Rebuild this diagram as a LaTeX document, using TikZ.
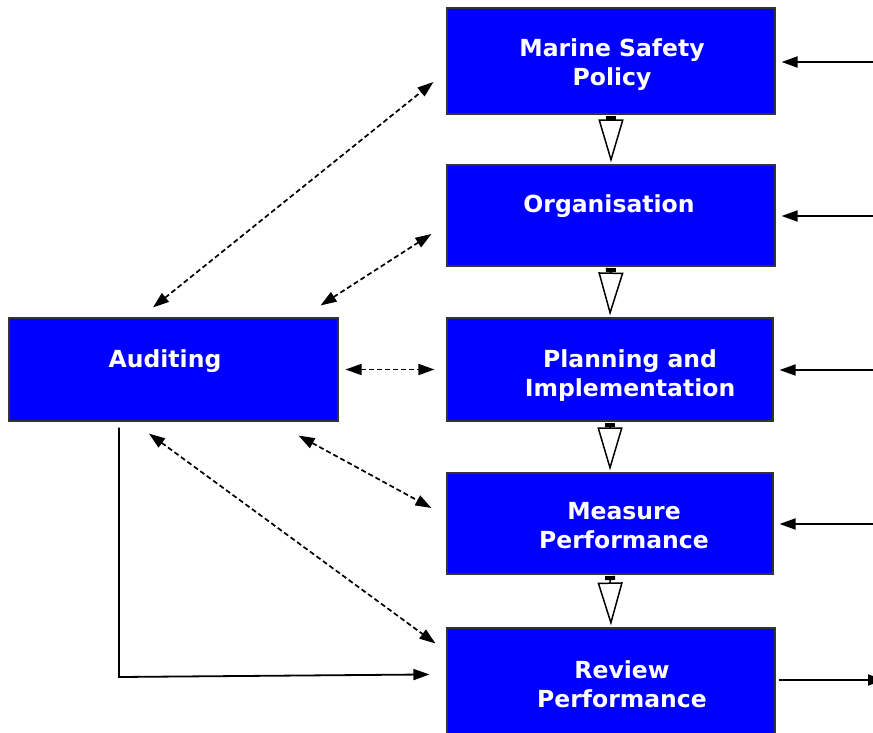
\documentclass[tikz,border=0pt]{standalone}
\usepackage{fontspec}
\setsansfont{DejaVu Sans}
\usetikzlibrary{arrows.meta}

\tikzset{
  stage/.style={draw=black!80, line width=1.1pt, fill=blue, inner sep=0pt},
  stagetext/.style={text=white, align=center, font=\sffamily\bfseries\fontsize{23.5}{29}\selectfont},
  flow/.style={line width=1.5pt, {Rectangle[length=4pt,width=10pt]}-{Triangle[open,length=43pt,width=25pt]},
    shorten <=1.5pt, shorten >=2pt},
  feed/.style={line width=1.8pt, -{Triangle[length=16pt,width=11pt]}},
  audit/.style={line width=1.7pt, dash pattern=on 5pt off 3pt, {Triangle[length=16pt,width=11pt]}-{Triangle[length=16pt,width=11pt]}}
}

\begin{document}
\begin{tikzpicture}[x=1pt, y=-1pt]
  \useasboundingbox (0,0) rectangle (873,733);

  % boxes
  \node[stage, minimum width=328pt, minimum height=106pt] (pol) at (611,61) {};
  \node[stage, minimum width=328pt, minimum height=101pt] (org) at (611,215.5) {};
  \node[stage, minimum width=326pt, minimum height=103pt] (pla) at (610,369.5) {};
  \node[stage, minimum width=326pt, minimum height=101pt] (mea) at (610,523.5) {};
  \node[stage, minimum width=328pt, minimum height=106pt] (rev) at (611,681) {};
  \node[stage, minimum width=329pt, minimum height=103pt] (aud) at (173.5,369.5) {};

  \node[stagetext] (poltext) at ([shift={(1,4)}]pol.center) {Marine Safety\\Policy};
  \node[stagetext] (orgtext) at ([shift={(-2,-9.5)}]org.center) {Organisation};
  \node[stagetext] (platext) at ([shift={(20,6.5)}]pla.center) {Planning and\\Implementation};
  \node[stagetext] (meatext) at ([shift={(14,2.5)}]mea.center) {Measure\\Performance};
  \node[stagetext] (revtext) at ([shift={(11,3)}]rev.center) {Review\\Performance};
  \node[stagetext] (audtext) at ([shift={(-8.5,-8.5)}]aud.center) {Auditing};

  % main flow
  \draw[flow] (pol.south) -- (org.north);
  \draw[flow] (org.south) -- (pla.north);
  \draw[flow] (pla.south) -- (mea.north);
  \draw[flow] (mea.south) -- (rev.north);

  % inputs and output on the right
  \foreach \b/\y in {pol/62, org/216, pla/370, mea/524} {
    \coordinate (in\b) at (873,\y);
    \draw[feed, shorten >=6pt] (in\b) -- (in\b -| \b.east);
  }
  \coordinate (out) at (884,680);
  \draw[feed, shorten <=3pt] (rev.east |- out) -- (out);

  % auditing links
  \draw[audit] ([shift={(-20.5,-10)}]aud.north) -- ([shift={(-13,21)}]pol.west);
  \draw[audit] ([shift={(-18,-12)}]aud.north east) -- ([shift={(-15,18.5)}]org.west);
  \draw[audit] ([shift={(7,0)}]aud.east) -- ([shift={(-12,0)}]pla.west);
  \draw[audit] ([shift={(-40,14)}]aud.south east) -- ([shift={(-15,-15.5)}]mea.west);
  \draw[audit] ([shift={(-24.5,12)}]aud.south) -- ([shift={(-11,16)}]rev.north west);

  \coordinate (corner) at (119,677);
  \draw[feed] ([shift={(-54.5,6)}]aud.south) -- (corner) -- ([shift={(-17,47)}]rev.north west);
\end{tikzpicture}
\end{document}
